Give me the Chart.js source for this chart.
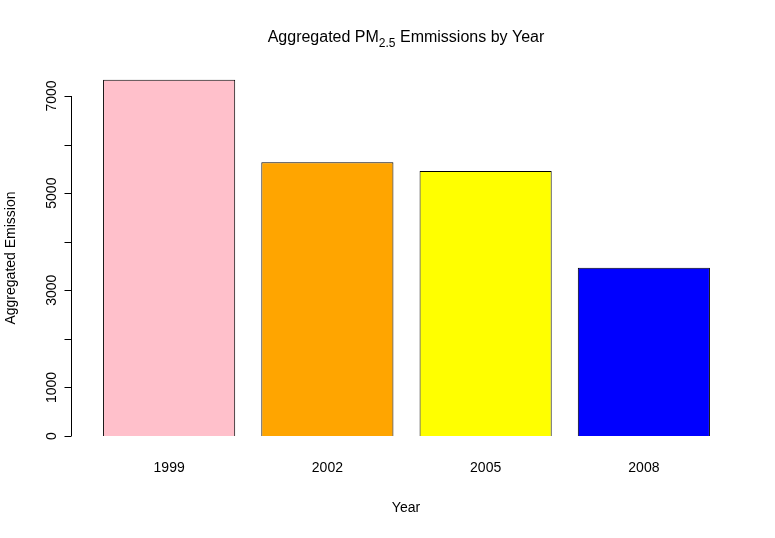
<!DOCTYPE html>
<html><head><meta charset="utf-8">
<script src="https://cdn.jsdelivr.net/npm/chart.js@4/dist/chart.umd.min.js"></script>
<style>html,body{margin:0;padding:0;background:#fff}#w{width:775px;height:538px}</style>
</head><body><div id="w"><canvas id="c"></canvas></div>
<script>
const years = ["1999","2002","2005","2008"];
const emissions = [7332.967, 5636.454, 5454.703, 3464.206];
const barColors = ["#FFC0CB","#FFA500","#FFFF00","#0000FF"];
const yTicks = [0,1000,2000,3000,4000,5000,6000,7000];
const yLabels = [0,1000,3000,5000,7000];
const F = '"Liberation Sans", Arial, sans-serif';
const deco = {
  id:'deco',
  afterDraw(ch){
    const c=ch.ctx, y=ch.scales.y, x=ch.scales.x;
    c.save(); c.fillStyle='#000'; c.strokeStyle='#000'; c.lineWidth=1;
    // y axis
    const ax=71.5;
    c.beginPath(); c.moveTo(ax,y.getPixelForValue(0)); c.lineTo(ax,y.getPixelForValue(7000));
    yTicks.forEach(t=>{const p=Math.round(y.getPixelForValue(t))+0.5; c.moveTo(ax,p); c.lineTo(ax-7,p);});
    c.stroke();
    c.font='14px '+F; c.textAlign='center'; c.textBaseline='middle';
    yLabels.forEach(t=>{const p=y.getPixelForValue(t); c.save(); c.translate(52,p); c.rotate(-Math.PI/2); c.fillText(String(t),0,0); c.restore();});
    years.forEach((yr,i)=>c.fillText(yr,x.getPixelForValue(i),468));
    c.fillText('Year',406,508);
    c.save(); c.translate(11,258); c.rotate(-Math.PI/2); c.fillText('Aggregated Emission',0,0); c.restore();
    // title
    c.font='16px '+F; c.textAlign='left';
    const a='Aggregated PM', s='2.5', b=' Emmissions by Year';
    c.font='16px '+F; const wa=c.measureText(a).width, wb=c.measureText(b).width;
    c.font='12px '+F; const ws=c.measureText(s).width;
    let sx=406-(wa+ws+wb)/2;
    c.font='16px '+F; c.fillText(a,sx,38);
    c.font='12px '+F; c.fillText(s,sx+wa,44);
    c.font='16px '+F; c.fillText(b,sx+wa+ws,38);
    c.restore();
  }
};
new Chart(document.getElementById('c'),{
  type:'bar',
  data:{labels:years,datasets:[{data:emissions,backgroundColor:barColors,borderColor:'#000',borderWidth:1,categoryPercentage:1,barPercentage:0.835}]},
  options:{responsive:true,maintainAspectRatio:false,animation:false,
    layout:{padding:{left:90,right:52,top:71.7,bottom:102}},
    plugins:{legend:{display:false},tooltip:{enabled:false}},
    scales:{x:{display:false},y:{display:false,min:0,max:7500}}},
  plugins:[deco]
});
</script></body></html>
